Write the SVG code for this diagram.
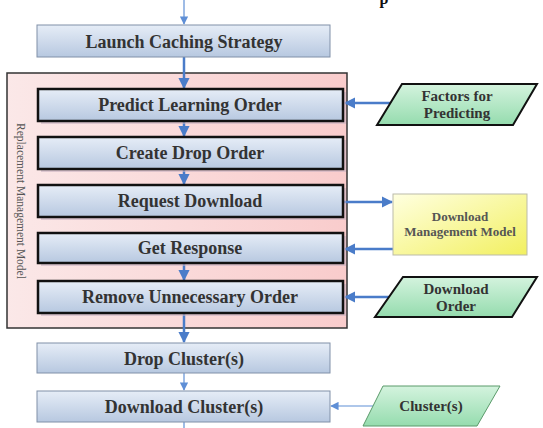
<svg xmlns="http://www.w3.org/2000/svg" width="543" height="428" viewBox="0 0 543 428">
<style>
text{font-family:"Liberation Serif","Times New Roman",serif;font-weight:bold;fill:#333;text-anchor:middle}
.t{font-size:18px}
.s{font-size:15px}
.y{font-size:13px;fill:#555}
.outer{fill:url(#gBlue);stroke:#8090a8;stroke-width:1}
.inner{fill:url(#gBlue);stroke:#111;stroke-width:2.5}
.shadow{fill:#c9b3c2;opacity:0.6}
.para{fill:url(#gGreen);stroke:#111;stroke-width:2}
.ln{stroke:#4a7cc9;stroke-width:2.5;fill:none}
.lt{stroke:#5f8fd6;stroke-width:1.2;fill:none}
</style>
<defs>
<linearGradient id="gBlue" x1="0" y1="0" x2="0" y2="1">
<stop offset="0" stop-color="#e6edf7"/>
<stop offset="1" stop-color="#b7c8e0"/>
</linearGradient>
<linearGradient id="gPink" x1="0" y1="0" x2="1" y2="0">
<stop offset="0" stop-color="#fbe8e8"/>
<stop offset="1" stop-color="#f9cccc"/>
</linearGradient>
<linearGradient id="gGreen" x1="0" y1="0" x2="0" y2="1">
<stop offset="0" stop-color="#d4f3de"/>
<stop offset="1" stop-color="#95dcae"/>
</linearGradient>
<linearGradient id="gYellow" x1="0" y1="0" x2="1" y2="1">
<stop offset="0" stop-color="#ffffe0"/>
<stop offset="1" stop-color="#f2f060"/>
</linearGradient>
<marker id="ah" viewBox="0 0 10 10" refX="9" refY="5" markerWidth="4.5" markerHeight="4.5" orient="auto" markerUnits="strokeWidth">
<path d="M0,0 L10,5 L0,10 z" fill="#4a7cc9"/>
</marker>
<marker id="ahs" viewBox="0 0 10 10" refX="9" refY="5" markerWidth="7" markerHeight="7" orient="auto" markerUnits="strokeWidth">
<path d="M0,0 L10,5 L0,10 z" fill="#5f8fd6"/>
</marker>
</defs>

<text x="384" y="4" style="font-size:16px;fill:#111">p</text>

<g id="container">
<rect x="7" y="73" width="340" height="255" fill="url(#gPink)" stroke="#333" stroke-width="1.5"/>
<text transform="translate(17,201) rotate(90)" style="font-size:11.5px;font-weight:normal;fill:#555">Replacement Management Model</text>
</g>

<g id="connectors">
<line class="lt" x1="184" y1="0" x2="184" y2="24" marker-end="url(#ahs)"/>
<line class="ln" x1="184" y1="57" x2="184" y2="88" marker-end="url(#ah)"/>
<line class="ln" x1="184" y1="121" x2="184" y2="136" marker-end="url(#ah)"/>
<line class="ln" x1="184" y1="169" x2="184" y2="184" marker-end="url(#ah)"/>
<line class="ln" x1="184" y1="263" x2="184" y2="280" marker-end="url(#ah)"/>
<line class="ln" x1="184" y1="313" x2="184" y2="342" marker-end="url(#ah)"/>
<line class="lt" x1="184" y1="373" x2="184" y2="390" marker-end="url(#ahs)"/>
<line class="lt" x1="184" y1="422" x2="184" y2="428"/>
<line class="ln" x1="390" y1="103" x2="345" y2="103" marker-end="url(#ah)"/>
<line class="ln" x1="344" y1="202" x2="392" y2="202" marker-end="url(#ah)"/>
<line class="ln" x1="393" y1="249" x2="345" y2="249" marker-end="url(#ah)"/>
<line class="ln" x1="390" y1="297" x2="345" y2="297" marker-end="url(#ah)"/>
<line class="lt" x1="375" y1="406" x2="331" y2="406" marker-end="url(#ahs)"/>
</g>

<g id="launch">
<rect x="37" y="25" width="293" height="32" class="outer"/>
<text x="184" y="47.5" class="t">Launch Caching Strategy</text>
</g>

<g id="predict">
<rect x="41" y="92" width="305" height="32" class="shadow"/>
<rect x="38" y="89" width="305" height="32" class="inner"/>
<text x="190" y="111" class="t">Predict Learning Order</text>
</g>

<g id="create">
<rect x="41" y="140" width="305" height="32" class="shadow"/>
<rect x="38" y="137" width="305" height="32" class="inner"/>
<text x="190" y="159" class="t">Create Drop Order</text>
</g>

<g id="request">
<rect x="41" y="188" width="305" height="32" class="shadow"/>
<rect x="38" y="185" width="305" height="32" class="inner"/>
<text x="190" y="207" class="t">Request Download</text>
</g>

<g id="response">
<rect x="41" y="236" width="305" height="30" class="shadow"/>
<rect x="38" y="233" width="305" height="30" class="inner"/>
<text x="190" y="254" class="t">Get Response</text>
</g>

<g id="remove">
<rect x="41" y="284" width="305" height="32" class="shadow"/>
<rect x="38" y="281" width="305" height="32" class="inner"/>
<text x="190" y="303" class="t">Remove Unnecessary Order</text>
</g>

<g id="drop">
<rect x="37" y="343" width="293" height="30" class="outer"/>
<text x="184" y="364.5" class="t">Drop Cluster(s)</text>
</g>

<g id="download">
<rect x="37" y="391" width="293" height="31" class="outer"/>
<text x="184" y="413" class="t">Download Cluster(s)</text>
</g>

<g id="factors">
<polygon points="402,84 537,84 513,125 377,125" class="para"/>
<text x="457" y="101" class="s">Factors for</text>
<text x="457" y="118" class="s">Predicting</text>
</g>

<g id="dmm">
<rect x="393" y="194" width="134" height="61" fill="url(#gYellow)" stroke="#bbbbaa" stroke-width="1"/>
<text x="460" y="221" class="y">Download</text>
<text x="460" y="236" class="y">Management Model</text>
</g>

<g id="dlorder">
<polygon points="403,277 537,277 512,317 375,317" class="para"/>
<text x="456" y="294" class="s">Download</text>
<text x="456" y="311" class="s">Order</text>
</g>

<g id="clusters">
<polygon points="383,386 500,386 477,426 363,426" class="para" style="stroke-width:1;stroke:#5a9a6a"/>
<text x="431" y="411" class="s">Cluster(s)</text>
</g>
</svg>
